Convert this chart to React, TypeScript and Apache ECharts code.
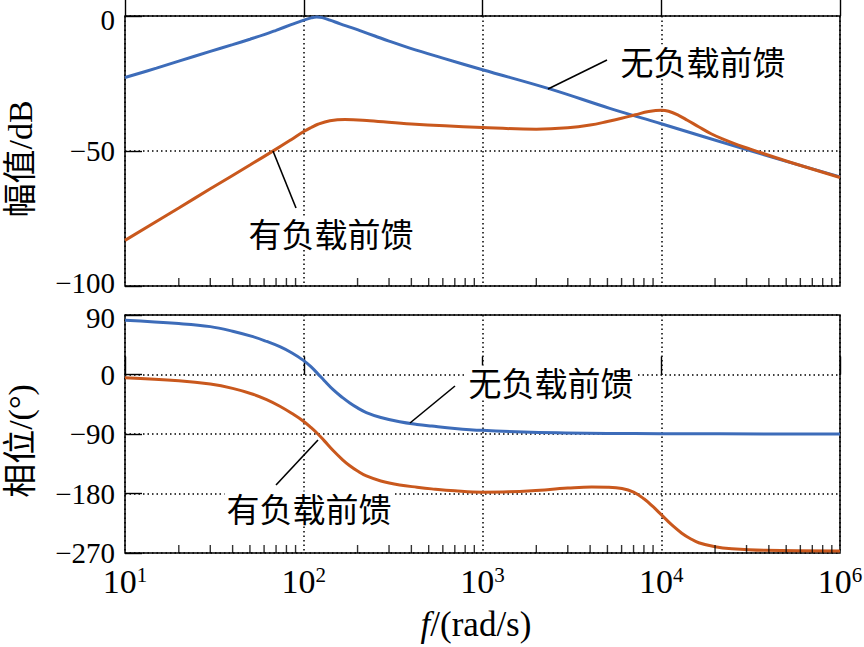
import React, { useEffect, useRef } from "react";
import * as echarts from "echarts";

// ---------- data ----------
const magFreqNoLoad = [10, 15, 20, 30, 40, 50, 60, 70, 85, 100, 110, 118, 127, 140, 160, 185, 210, 250, 300, 392, 600, 1000, 2377, 5150, 10000, 30000, 100000];
const magNoLoad = [-22.8, -19.3, -16.7, -13.1, -10.6, -8.6, -6.9, -5.3, -3.2, -1.5, -0.7, -0.4, -0.6, -1.5, -2.9, -4.3, -5.6, -7.4, -9.3, -11.9, -15.6, -19.9, -27.0, -34.2, -39.9, -49.5, -59.6];

const magFreqLoad = [10, 20, 30, 50, 70, 85, 100, 110, 120, 140, 170, 234, 400, 1000, 2000, 3000, 4000, 5000, 6000, 7160, 8500, 10000, 11000, 12500, 14000, 16180, 19000, 22000, 27000, 32100, 50000, 100000];
const magLoad = [-83.1, -71.1, -64.0, -55.2, -49.3, -45.8, -42.8, -41.3, -40.1, -38.8, -38.3, -38.8, -40.0, -41.3, -41.9, -41.4, -40.4, -39.1, -37.9, -36.6, -35.4, -34.9, -35.3, -36.8, -38.6, -41.0, -43.6, -45.5, -47.8, -49.5, -53.7, -59.8];

const phaseFreqNoLoad = [10, 20, 30, 40, 52, 62, 73.5, 86, 100, 110, 120, 130, 146, 165, 181, 200, 224, 270, 344, 430, 520, 700, 1000, 1700, 2900, 5000, 10000, 100000];
const phaseNoLoad = [82, 77, 72.4, 65.5, 57.2, 50, 42, 32.5, 21, 11.5, 1, -9, -23, -35, -43, -50.5, -57.5, -65, -71.5, -75.5, -78, -81.5, -84.5, -87, -88.3, -89.1, -89.6, -90];

const phaseFreqLoad = [10, 20, 30, 40, 52, 62, 73.5, 86, 100, 110, 120, 130, 146, 165, 181, 200, 224, 270, 344, 430, 520, 700, 1000, 1400, 1890, 3000, 4080, 5000, 6030, 7000, 8000, 9000, 10000, 11500, 13030, 14500, 16200, 20000, 24800, 38000, 100000];
const phaseLoad = [-5, -9.5, -14.5, -21, -29.8, -38, -48, -59, -71, -80.5, -90, -100, -115, -129, -138, -146, -153.5, -161, -167, -170.5, -173, -176, -178, -177.5, -175.8, -171.8, -170, -170.4, -172.5, -178, -188, -200, -212, -228, -240, -248, -254.5, -260.5, -263.5, -266, -267];

const xMajorTicks = [10, 100, 1000, 10000, 100000];
const xTickExponents = ["1", "2", "3", "4", "6"];
const magTicks = { min: -100, max: 0, step: 50 };
const phaseTicks = { min: -270, max: 90, step: 90 };

const seriesNames = ["无负载前馈", "有负载前馈"];
const yNames = ["幅值/dB", "相位/(°)"];

// ---------- styles ----------
const BLUE = "#3D6CB9";
const ORANGE = "#C9581D";
const SERIF = '"Liberation Serif", "Times New Roman", "DejaVu Serif", serif';
const MIXED = '"Liberation Serif", "Times New Roman", "Noto Sans CJK SC", serif';
const CJK = '"Noto Sans CJK SC", "Noto Sans", sans-serif';
const Y_FONT = 29;

const pairs = (xs: number[], ys: number[]) => xs.map((x, i) => [x, ys[i]]);

// minor tick positions (2..9 within each decade)
const minorTicks: number[] = [];
for (let d = 0; d < xMajorTicks.length - 1; d++) {
  for (let k = 2; k <= 9; k++) minorTicks.push(xMajorTicks[d] * k);
}

const numText = (v: number) => (v < 0 ? "\u2212" + Math.abs(v) : String(v));
// end labels are nudged off the panel borders, as in the reference
const fmtY = (t: { min: number; max: number }) => (v: number) => {
  if (v === t.max) return "{hi|" + numText(v) + "}";
  if (v === t.min) return "{lo|" + numText(v) + "}";
  return "{n|" + numText(v) + "}";
};
const fmtX = (v: number) => {
  const idx = xMajorTicks.findIndex((t) => Math.abs(Math.log10(t) - Math.log10(v)) < 1e-6);
  if (idx < 0) return "";
  return "{b|10}{s|" + xTickExponents[idx] + "}";
};

const gridLine = () => ({ color: "#000", width: 1.5, type: [1.5, 3] as any });
const tickLine = () => ({ color: "#000", width: 1.4 });

function makeX(gridIndex: number, showLabels: boolean) {
  return {
    gridIndex,
    type: "log",
    logBase: 10,
    min: xMajorTicks[0],
    max: xMajorTicks[xMajorTicks.length - 1],
    axisLine: { show: false },
    axisTick: { show: true, inside: true, length: 18, lineStyle: tickLine() },
    minorTick: { show: false },
    splitLine: { show: true, lineStyle: gridLine() },
    axisLabel: {
      show: showLabels,
      margin: 11,
      showMinLabel: true,
      showMaxLabel: true,
      formatter: fmtX,
      rich: {
        b: { fontFamily: SERIF, fontSize: 34, color: "#000", verticalAlign: "bottom", lineHeight: 34 },
        s: { fontFamily: SERIF, fontSize: 21, color: "#000", verticalAlign: "top", lineHeight: 21 },
      },
    },
  };
}

function makeY(gridIndex: number, t: { min: number; max: number; step: number }, hiShift: number, loShift: number) {
  const base = { fontFamily: SERIF, fontSize: Y_FONT, color: "#000", lineHeight: 26 };
  return {
    gridIndex,
    type: "value",
    min: t.min,
    max: t.max,
    interval: t.step,
    axisLine: { show: false },
    axisTick: { show: true, inside: true, length: 17, lineStyle: tickLine() },
    splitLine: { show: true, lineStyle: gridLine() },
    axisLabel: {
      margin: 10,
      fontFamily: SERIF,
      fontSize: Y_FONT,
      color: "#000",
      formatter: fmtY(t),
      showMinLabel: true,
      showMaxLabel: true,
      rich: {
        n: { ...base },
        hi: { ...base, padding: [hiShift * 2, 0, 0, 0] },
        lo: { ...base, padding: [0, 0, loShift * 2, 0] },
      },
    },
  };
}

function lineSeries(name: string, data: number[][], color: string, axis: number) {
  return {
    name,
    type: "line",
    xAxisIndex: axis,
    yAxisIndex: axis,
    data,
    showSymbol: false,
    smooth: 0.4,
    lineStyle: { color, width: 3 },
    itemStyle: { color },
    z: 3,
  };
}

function minorTickSeries(axis: number, yMin: number) {
  return {
    type: "scatter",
    xAxisIndex: axis,
    yAxisIndex: axis,
    silent: true,
    data: minorTicks.map((f) => [f, yMin]),
    symbol: "rect",
    symbolSize: [1.4, 8],
    symbolOffset: [0, -4],
    itemStyle: { color: "#000" },
    z: 4,
  };
}

function annot(text: string, x: number, y: number) {
  return {
    type: "text",
    x,
    y,
    z: 100,
    style: {
      text,
      fontFamily: CJK,
      fontSize: 33,
      fill: "#000",
      align: "center",
      verticalAlign: "middle",
      backgroundColor: "#fff",
      padding: [0, 2],
    },
  };
}

function leader(x1: number, y1: number, x2: number, y2: number) {
  return {
    type: "line",
    z: 100,
    shape: { x1, y1, x2, y2 },
    style: { stroke: "#000", lineWidth: 1.6 },
  };
}

export default function App() {
  const ref = useRef<HTMLDivElement>(null);

  useEffect(() => {
    if (!ref.current) return;
    const chart = echarts.init(ref.current, null, { renderer: "svg" });
    const option: any = {
      animation: false,
      backgroundColor: "#fff",
      grid: [
        { left: 125, top: 16, width: 715, height: 270, show: true, borderColor: "#000", borderWidth: 1.5, backgroundColor: "transparent", containLabel: false, outerBoundsMode: "none" },
        { left: 125, top: 315, width: 715, height: 238, show: true, borderColor: "#000", borderWidth: 1.5, backgroundColor: "transparent", containLabel: false, outerBoundsMode: "none" },
      ],
      xAxis: [makeX(0, false), makeX(1, true)],
      yAxis: [makeY(0, magTicks, 4, 3), makeY(1, phaseTicks, 3, 0)],
      series: [
        lineSeries(seriesNames[0], pairs(magFreqNoLoad, magNoLoad), BLUE, 0),
        lineSeries(seriesNames[1], pairs(magFreqLoad, magLoad), ORANGE, 0),
        lineSeries(seriesNames[0], pairs(phaseFreqNoLoad, phaseNoLoad), BLUE, 1),
        lineSeries(seriesNames[1], pairs(phaseFreqLoad, phaseLoad), ORANGE, 1),
        minorTickSeries(0, magTicks.min),
        minorTickSeries(1, phaseTicks.min),
      ],
      graphic: [
        leader(548, 89, 607, 60),
        leader(273, 151, 296, 208),
        leader(410, 423, 455, 386),
        leader(318, 440, 276, 485),
        annot(seriesNames[0], 703, 61),
        annot(seriesNames[1], 331, 233),
        annot(seriesNames[0], 551, 382),
        annot(seriesNames[1], 309, 508),
        {
          type: "text",
          x: 20,
          y: 159,
          rotation: Math.PI / 2,
          z: 100,
          style: { text: yNames[0], fontFamily: MIXED, fontSize: 34, fill: "#000", align: "center", verticalAlign: "middle" },
        },
        {
          type: "text",
          x: 20,
          y: 441,
          rotation: Math.PI / 2,
          z: 100,
          style: { text: yNames[1], fontFamily: MIXED, fontSize: 34, fill: "#000", align: "center", verticalAlign: "middle" },
        },
        {
          type: "text",
          x: 476,
          y: 624,
          z: 100,
          style: {
            text: "{i|f}/(rad/s)",
            fontFamily: SERIF,
            fontSize: 35,
            fill: "#000",
            align: "center",
            verticalAlign: "middle",
            rich: {
              i: { fontFamily: SERIF, fontSize: 35, fontStyle: "italic", fill: "#000" },
            },
          },
        },
      ],
    };
    chart.setOption(option);
    return () => chart.dispose();
  }, []);

  return (
    <div
      ref={ref}
      style={{ position: "absolute", left: 0, top: 0, width: 864, height: 647, background: "#fff" }}
    />
  );
}
